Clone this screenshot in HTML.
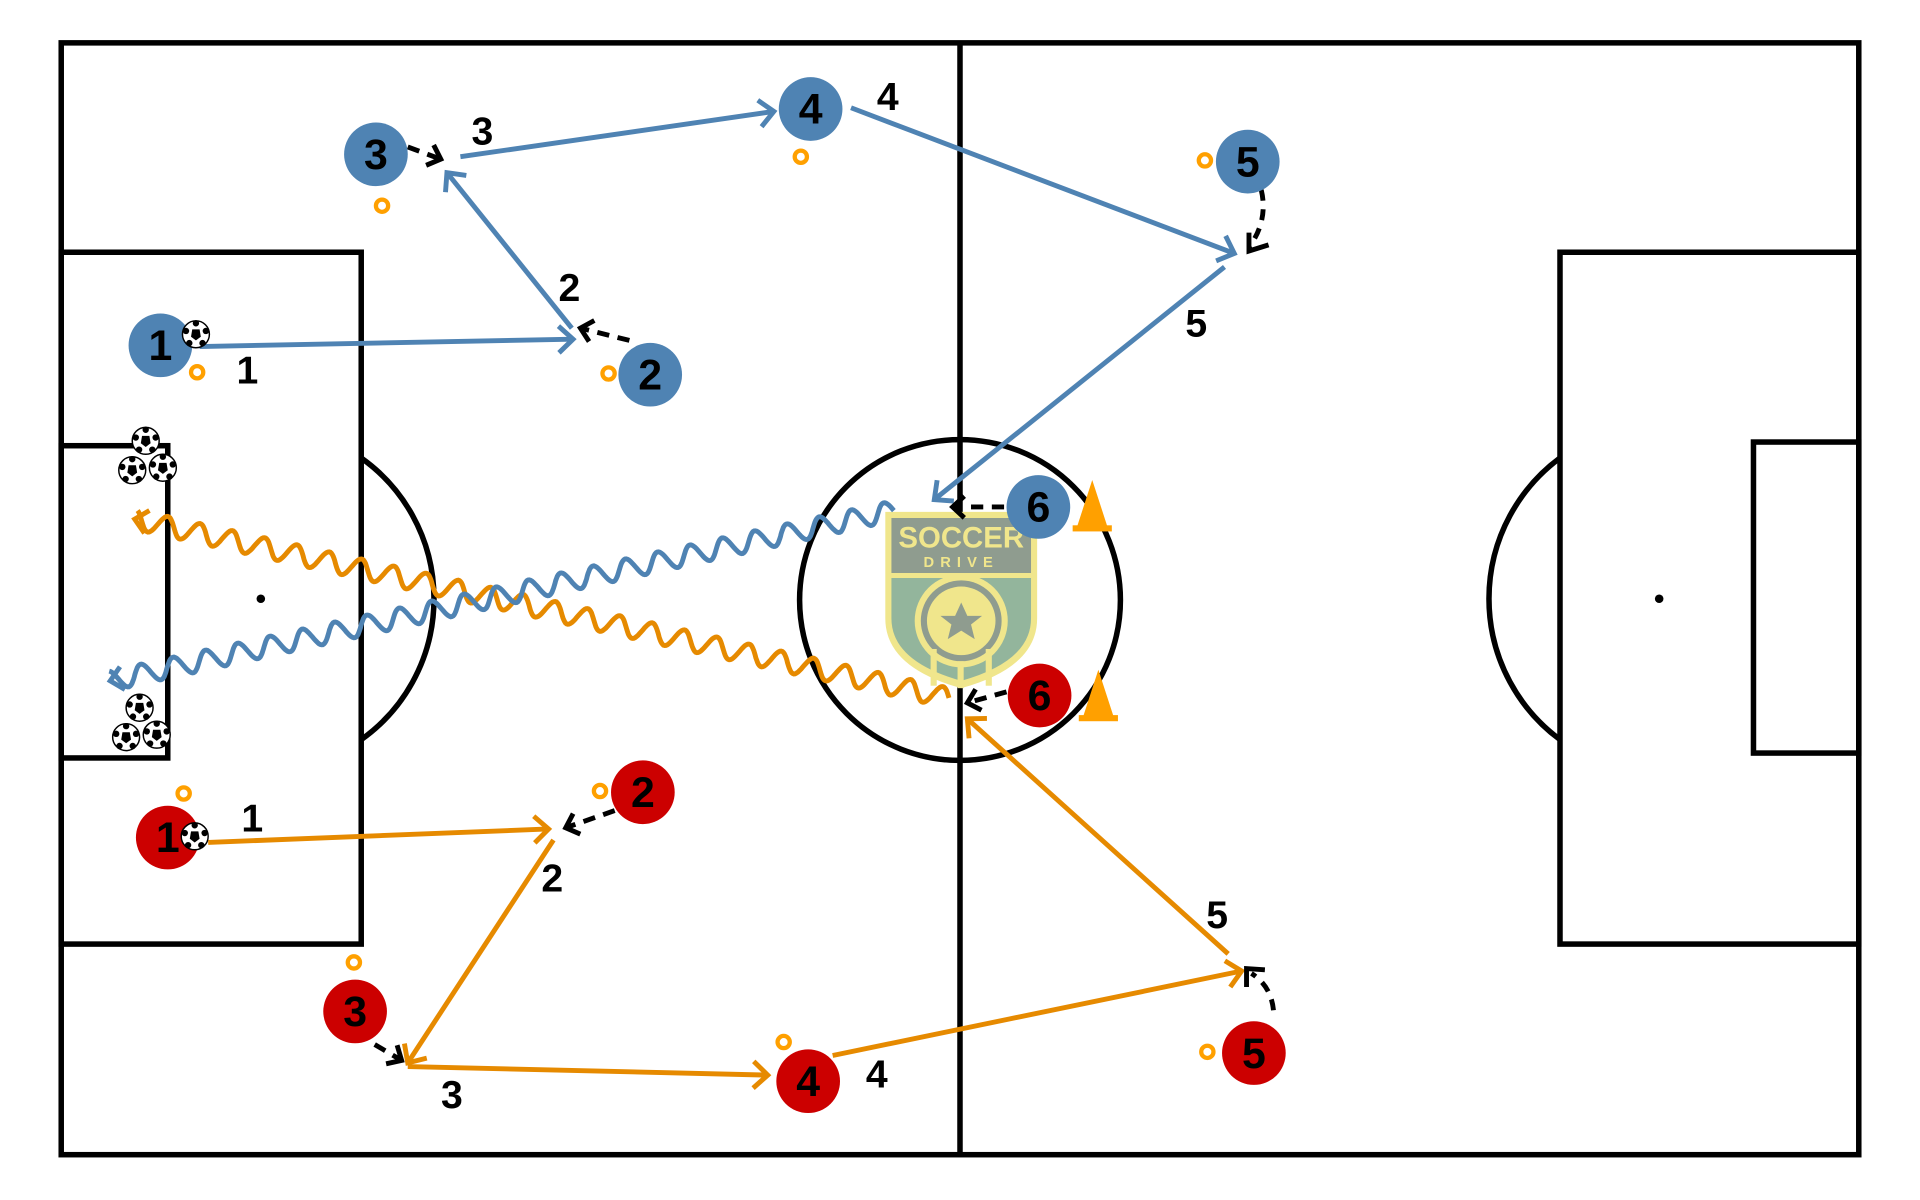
<!DOCTYPE html>
<html><head><meta charset="utf-8"><style>
html,body{margin:0;padding:0;background:#fff;}
svg{display:block;}
text{font-family:"Liberation Sans",sans-serif;font-weight:bold;}
</style></head><body>
<svg id="s" width="1920" height="1200" viewBox="0 0 1568 980" xmlns="http://www.w3.org/2000/svg">
<rect width="1568" height="980" fill="#fff"/>
<g fill="none" stroke="#000" stroke-width="4.5">
<rect x="50" y="35" width="1468" height="908"/>
<line x1="784" y1="35" x2="784" y2="943"/>
<circle cx="784" cy="490" r="131"/>
<rect x="50" y="206" width="245" height="565"/>
<rect x="50" y="364" width="87" height="255"/>
<path d="M295 374 A141 141 0 0 1 295 604"/>
<rect x="1274" y="206" width="244" height="565"/>
<rect x="1432" y="361" width="86" height="254"/>
<path d="M1274 374 A143 143 0 0 0 1274 604"/>
</g>
<circle cx="213" cy="489" r="3.5"/>
<circle cx="1355" cy="489" r="3.5"/>
<g>
<path d="M723 418 H847 V505 Q847 545 785 562 Q723 545 723 505 Z" fill="#f0e68c"/>
<path d="M728 423 H842 V468 H728 Z" fill="#8f9c8f"/>
<path d="M728 472 H842 V505 Q842 540 785 556 Q728 540 728 505 Z" fill="#93b59c"/>
<circle cx="785" cy="507" r="38" fill="#f0e68c"/>
<circle cx="785" cy="507" r="33" fill="#8f9c8f"/>
<circle cx="785" cy="507" r="28" fill="#f0e68c"/>
<polygon points="785,492 790,503 802,503 793,510 796,522 785,515 774,522 777,510 768,503 780,503" fill="#8f9c8f"/>
<rect x="760" y="530" width="5" height="30" fill="#f0e68c"/>
<rect x="782" y="540" width="5" height="22" fill="#f0e68c"/>
<rect x="805" y="530" width="5" height="30" fill="#f0e68c"/>
<text x="785" y="447" text-anchor="middle" font-size="24" fill="#f0e68c">SOCCER</text>
<text x="785" y="463" text-anchor="middle" font-size="12" fill="#f0e68c" letter-spacing="5">DRIVE</text>
</g>
<g id="dyn"></g>
</svg>
<script>
var NS="http://www.w3.org/2000/svg",g=document.getElementById("dyn");
function el(t,a,txt){var e=document.createElementNS(NS,t);for(var k in a)e.setAttribute(k,a[k]);if(txt)e.textContent=txt;g.appendChild(e);return e;}
var B="#4f83b3",O="#e68a00",R="#cc0000",C="#ffa000";
function head(x1,y1,x2,y2,c,s){var a=Math.atan2(y2-y1,x2-x1),d=0.75;
 el("polyline",{points:(x2-s*Math.cos(a-d))+","+(y2-s*Math.sin(a-d))+" "+x2+","+y2+" "+(x2-s*Math.cos(a+d))+","+(y2-s*Math.sin(a+d)),fill:"none",stroke:c,"stroke-width":4});}
function arrow(x1,y1,x2,y2,c){el("line",{x1:x1,y1:y1,x2:x2,y2:y2,stroke:c,"stroke-width":4});head(x1,y1,x2,y2,c,16);}
function run(x1,y1,x2,y2){el("line",{x1:x1,y1:y1,x2:x2,y2:y2,stroke:"#000","stroke-width":4,"stroke-dasharray":"10 7"});head(x1,y1,x2,y2,"#000",13);}
function wave(x1,y1,x2,y2,c){var dx=x2-x1,dy=y2-y1,L=Math.hypot(dx,dy),ux=dx/L,uy=dy/L,nx=-uy,ny=ux,p=[];
 for(var t=0;t<=L;t+=1){var w=8*Math.sin(t/27*2*Math.PI);p.push((x1+ux*t+nx*w).toFixed(1)+","+(y1+uy*t+ny*w).toFixed(1));}
 el("polyline",{points:p.join(" "),fill:"none",stroke:c,"stroke-width":4});head(x1,y1,x2,y2,c,14);}
function ring(x,y){el("circle",{cx:x,cy:y,r:5,fill:"none",stroke:C,"stroke-width":3.5});}
function lbl(x,y,t){el("text",{x:x,y:y,"font-size":32,"text-anchor":"middle",fill:"#000"},t);}
function ball(x,y){el("circle",{cx:x,cy:y,r:11,fill:"#fff",stroke:"#000","stroke-width":1.2});
 el("polygon",{points:(x-3)+","+(y-4)+" "+(x+3)+","+(y-4)+" "+(x+4)+","+(y+2)+" "+x+","+(y+5)+" "+(x-4)+","+(y+2),fill:"#000"});
 [[0,-10],[9,-3],[6,8],[-6,8],[-9,-3]].forEach(function(q){el("circle",{cx:x+q[0]*0.9,cy:y+q[1]*0.9,r:2.6,fill:"#000"});});}
function player(x,y,c,n){el("circle",{cx:x,cy:y,r:26,fill:c});el("text",{x:x,y:y+12,"font-size":35,"text-anchor":"middle",fill:"#000"},n);}
function cone(x,y){el("polygon",{points:(x-13)+","+y+" "+x+","+(y-40)+" "+(x+13)+","+y,fill:C});el("rect",{x:x-16,y:y-3,width:32,height:5,fill:C});}
wave(775,570,110,424,O);
wave(730,417,90,556,B);
arrow(163,283,468,277,B);lbl(202,313,"1");
run(514,278,474,268);
arrow(467,268,365,141,B);lbl(465,246,"2");
run(333,120,360,130);
arrow(376,128,632,91,B);lbl(394,118,"3");
arrow(695,88,1008,207,B);lbl(725,90,"4");
el("path",{d:"M1030 155 Q1036 180 1020 202",fill:"none",stroke:"#000","stroke-width":4,"stroke-dasharray":"9 7"});
el("polyline",{points:"1020,190 1020,205 1036,200",fill:"none",stroke:"#000","stroke-width":4});
arrow(1000,218,763,408,B);lbl(977,275,"5");
run(820,414,778,414);
arrow(170,688,448,677,O);lbl(206,679,"1");
run(502,662,462,676);
arrow(452,686,333,868,O);lbl(451,728,"2");
run(306,853,328,866);
arrow(333,871,627,878,O);lbl(369,905,"3");
arrow(680,862,1014,793,O);lbl(716,888,"4");
el("path",{d:"M1040 825 Q1038 805 1022 795",fill:"none",stroke:"#000","stroke-width":4,"stroke-dasharray":"9 7"});
el("polyline",{points:"1018,806 1018,791 1033,792",fill:"none",stroke:"#000","stroke-width":4});
arrow(1003,779,790,587,O);lbl(994,758,"5");
run(822,565,790,574);
[[161,304],[497,305],[312,168],[654,128],[984,131],[150,648],[490,646],[289,786],[640,851],[986,859]].forEach(function(p){ring(p[0],p[1]);});
player(131,282,B,"1");player(531,306,B,"2");player(307,126,B,"3");player(662,89,B,"4");player(1019,132,B,"5");player(848,414,B,"6");
player(137,684,R,"1");player(525,647,R,"2");player(290,826,R,"3");player(660,883,R,"4");player(1024,860,R,"5");player(849,568,R,"6");
cone(892,432);cone(897,587);
ball(160,273);ball(159,683);
ball(119,360);ball(108,384);ball(133,382);ball(114,578);ball(103,602);ball(128,600);
</script>
</body></html>
